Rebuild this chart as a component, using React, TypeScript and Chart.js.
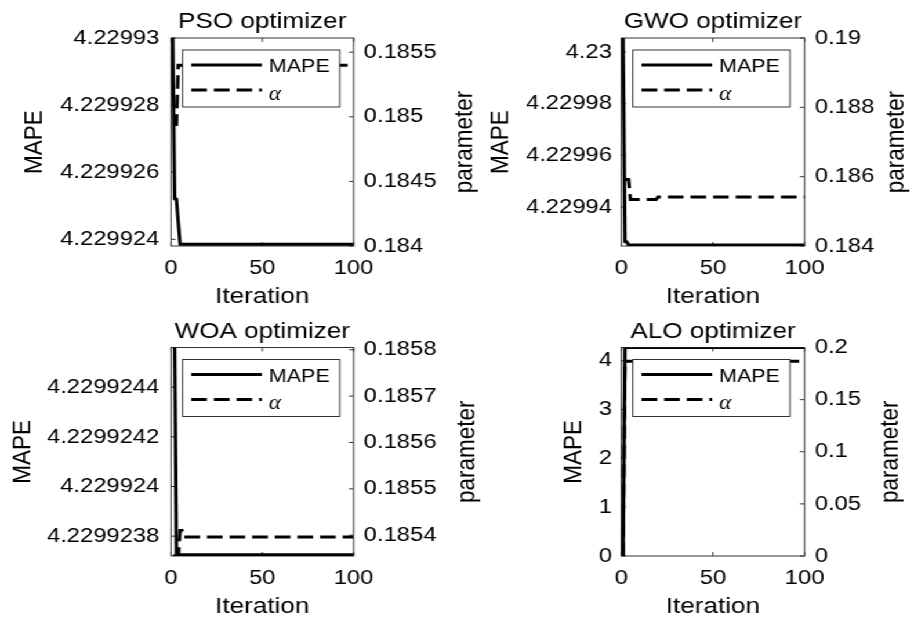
import React, { useEffect, useRef } from "react";
import { Chart, registerables } from "chart.js";

Chart.register(...registerables);

// ---------- data ----------
const iterationTicks = [0, 50, 100];
const seriesLabels = ["MAPE", "α"];
const leftAxisTitle = "MAPE";
const rightAxisTitle = "parameter";
const xAxisTitle = "Iteration";
const panelTitles = ["PSO optimizer", "GWO optimizer", "WOA optimizer", "ALO optimizer"];

// PSO
const psoIter = [1, 2, 3, 4, 5, 6, 100];
const psoMape = [4.22993, 4.2299252, 4.2299252, 4.2299245, 4.22992385, 4.22992385, 4.22992385];
const psoAlpha = [0.18494, 0.18494, 0.18494, 0.1854, 0.1854, 0.1854, 0.1854];
const psoMapeLimits = [4.2299238, 4.22993];
const psoAlphaLimits = [0.184, 0.18561];
const psoMapeTicks = [4.229924, 4.229926, 4.229928, 4.22993];
const psoAlphaTicks = [0.184, 0.1845, 0.185, 0.1855];

// GWO
const gwoIter = [1, 2, 3, 4, 5, 19, 20, 100];
const gwoMape = [4.2300054, 4.2299265, 4.2299265, 4.2299253, 4.2299253, 4.2299253, 4.2299253, 4.2299253];
const gwoAlpha = [0.18592, 0.18592, 0.18592, 0.18592, 0.18534, 0.18534, 0.18541, 0.18541];
const gwoMapeLimits = [4.2299249, 4.2300054];
const gwoAlphaLimits = [0.184, 0.19];
const gwoMapeTicks = [4.22994, 4.22996, 4.22998, 4.23];
const gwoAlphaTicks = [0.184, 0.186, 0.188, 0.19];

// WOA
const woaIter = [1, 2, 3, 4, 5, 6, 7, 100];
const woaMape = [4.22992456, 4.22992456, 4.229923725, 4.229923725, 4.229923725, 4.229923725, 4.229923725, 4.229923725];
const woaAlpha = [0.185355, 0.185355, 0.185355, 0.185355, 0.18541, 0.18541, 0.185396, 0.185396];
const woaMapeLimits = [4.22992372, 4.22992456];
const woaAlphaLimits = [0.185355, 0.185805];
const woaMapeTicks = [4.2299238, 4.229924, 4.2299242, 4.2299244];
const woaAlphaTicks = [0.1854, 0.1855, 0.1856, 0.1857, 0.1858];

// ALO
const aloIter = [1, 2, 100];
const aloMape = [0, 4.27, 4.27];
const aloAlpha = [0, 0.1868, 0.1868];
const aloMapeLimits = [0, 4.27];
const aloAlphaLimits = [0, 0.2];
const aloMapeTicks = [0, 1, 2, 3, 4];
const aloAlphaTicks = [0, 0.05, 0.1, 0.15, 0.2];

// ---------- style / layout ----------
const FONT = '"Liberation Sans", Arial, Helvetica, sans-serif';
const SERIF = '"Liberation Serif", "DejaVu Serif", serif';
const TEXT = "#000000";
const FRAME = "#333333";
const LINE_W = 3;
const DASH = [13.5, 6];
const INNER_W = 788;
const STRETCH = 914 / INNER_W;

const panels = [
  {
    title: panelTitles[0], iter: psoIter, mape: psoMape, alpha: psoAlpha,
    mapeLimits: psoMapeLimits, alphaLimits: psoAlphaLimits, mapeTicks: psoMapeTicks, alphaTicks: psoAlphaTicks,
    left: 0, top: 0, width: 420, height: 310, leftW: 147.4, rightW: 115.2,
    titleBottom: 3, leftTitlePad: 16.7, leftTickPad: 10, rightTickPad: 8.8, rightTitleOffset: 95.6,
  },
  {
    title: panelTitles[1], iter: gwoIter, mape: gwoMape, alpha: gwoAlpha,
    mapeLimits: gwoMapeLimits, alphaLimits: gwoAlphaLimits, mapeTicks: gwoMapeTicks, alphaTicks: gwoAlphaTicks,
    left: 394, top: 0, width: 394, height: 310, leftW: 141.6, rightW: 94.3,
    titleBottom: 3, leftTitlePad: 23.8, leftTickPad: 8, rightTickPad: 8.8, rightTitleOffset: 78.8,
  },
  {
    title: panelTitles[2], iter: woaIter, mape: woaMape, alpha: woaAlpha,
    mapeLimits: woaMapeLimits, alphaLimits: woaAlphaLimits, mapeTicks: woaMapeTicks, alphaTicks: woaAlphaTicks,
    left: 0, top: 310, width: 420, height: 310, leftW: 147.4, rightW: 115.2,
    titleBottom: 2.5, leftTitlePad: 5.9, leftTickPad: 10, rightTickPad: 8.8, rightTitleOffset: 97.6,
  },
  {
    title: panelTitles[3], iter: aloIter, mape: aloMape, alpha: aloAlpha,
    mapeLimits: aloMapeLimits, alphaLimits: aloAlphaLimits, mapeTicks: aloMapeTicks, alphaTicks: aloAlphaTicks,
    left: 394, top: 310, width: 394, height: 310, leftW: 141.6, rightW: 94.3,
    titleBottom: 2.5, leftTitlePad: 87.1, leftTickPad: 8, rightTickPad: 8.8, rightTitleOffset: 73.8,
  },
];

const fmt = (v: number) => String(parseFloat(Number(v).toPrecision(10)));

const matlabPlugin = {
  id: "matlabFrame",
  beforeDatasetsDraw(chart: any) {
    const { ctx, chartArea: a, scales } = chart;
    const TL = 4;
    ctx.save();
    ctx.strokeStyle = FRAME;
    ctx.lineWidth = 1;
    ctx.setLineDash([]);
    ctx.strokeRect(a.left, a.top, a.right - a.left, a.bottom - a.top);
    ctx.beginPath();
    scales.x.ticks.forEach((t: any) => {
      const px = scales.x.getPixelForValue(t.value);
      ctx.moveTo(px, a.bottom);
      ctx.lineTo(px, a.bottom - TL);
      ctx.moveTo(px, a.top);
      ctx.lineTo(px, a.top + TL);
    });
    scales.yL.ticks.forEach((t: any) => {
      const py = scales.yL.getPixelForValue(t.value);
      ctx.moveTo(a.left, py);
      ctx.lineTo(a.left + TL, py);
    });
    scales.yR.ticks.forEach((t: any) => {
      const py = scales.yR.getPixelForValue(t.value);
      ctx.moveTo(a.right, py);
      ctx.lineTo(a.right - TL, py);
    });
    ctx.stroke();
    ctx.restore();
  },
  afterDatasetsDraw(chart: any) {
    const { ctx, chartArea: a } = chart;
    const ds = chart.data.datasets;
    const lx = a.left + 10;
    const ly = a.top + 12;
    const lw = 135.5;
    const lh = 57;
    ctx.save();
    ctx.fillStyle = "#ffffff";
    ctx.fillRect(lx, ly, lw, lh);
    ctx.strokeStyle = FRAME;
    ctx.lineWidth = 1;
    ctx.setLineDash([]);
    ctx.strokeRect(lx, ly, lw, lh);
    ctx.strokeStyle = "#000";
    ctx.lineWidth = LINE_W;
    ctx.lineCap = "butt";
    ctx.beginPath();
    ctx.moveTo(lx + 7.5, ly + 15);
    ctx.lineTo(lx + 68.4, ly + 15);
    ctx.stroke();
    ctx.setLineDash(DASH);
    ctx.beginPath();
    ctx.moveTo(lx + 7.5, ly + 40);
    ctx.lineTo(lx + 68.4, ly + 40);
    ctx.stroke();
    ctx.setLineDash([]);
    ctx.fillStyle = TEXT;
    ctx.textAlign = "left";
    ctx.font = `18.5px ${FONT}`;
    ctx.textBaseline = "middle";
    ctx.fillText(ds[0].label, lx + 74.4, ly + 17);
    ctx.font = `italic 20px ${SERIF}`;
    ctx.textBaseline = "alphabetic";
    ctx.fillText(ds[1].label, lx + 74.4, ly + 49.5);
    ctx.restore();
  },
  afterDraw(chart: any, _args: any, opts: any) {
    const { ctx, chartArea: a } = chart;
    ctx.save();
    ctx.translate(a.right + opts.rightTitleOffset, (a.top + a.bottom) / 2);
    ctx.rotate(-Math.PI / 2);
    ctx.font = `22.5px ${FONT}`;
    ctx.fillStyle = TEXT;
    ctx.textAlign = "center";
    ctx.textBaseline = "middle";
    ctx.fillText(opts.rightTitle, 0, 0);
    ctx.restore();
  },
};

function makeConfig(p: any): any {
  const tickFont = { family: FONT, size: 20.5 };
  const labelFont = { family: FONT, size: 22.5, weight: "normal" };
  const toPts = (ys: number[]) => p.iter.map((x: number, i: number) => ({ x, y: ys[i] }));
  const fixedTicks = (vals: number[]) => (s: any) => {
    s.ticks = vals.map((v) => ({ value: v }));
  };
  return {
    type: "line",
    data: {
      datasets: [
        {
          label: seriesLabels[0], data: toPts(p.mape), yAxisID: "yL",
          borderColor: "#000", backgroundColor: "#000", borderWidth: LINE_W,
          pointRadius: 0, tension: 0, fill: false, borderJoinStyle: "round",
        },
        {
          label: seriesLabels[1], data: toPts(p.alpha), yAxisID: "yR",
          borderColor: "#000", backgroundColor: "#000", borderWidth: LINE_W, borderDash: DASH,
          pointRadius: 0, tension: 0, fill: false, borderCapStyle: "butt",
        },
      ],
    },
    options: {
      responsive: false,
      animation: false,
      devicePixelRatio: 1,
      events: [],
      layout: { padding: 0 },
      plugins: {
        legend: { display: false },
        tooltip: { enabled: false },
        title: {
          display: true, text: p.title, fullSize: false, color: TEXT,
          font: labelFont, padding: { top: 8, bottom: p.titleBottom },
        },
        matlabFrame: { rightTitle: rightAxisTitle, rightTitleOffset: p.rightTitleOffset },
      },
      scales: {
        x: {
          type: "linear", position: "bottom", min: 0, max: 100, bounds: "data",
          afterBuildTicks: fixedTicks(iterationTicks),
          afterFit: (s: any) => { s.height = 64; },
          grid: { display: false, drawTicks: false },
          border: { display: false },
          ticks: { font: tickFont, color: TEXT, padding: 10, maxRotation: 0, autoSkip: false, callback: (v: number) => fmt(v) },
          title: { display: true, text: xAxisTitle, font: labelFont, color: TEXT, padding: { top: 0, bottom: 0 } },
        },
        yL: {
          type: "linear", position: "left", min: p.mapeLimits[0], max: p.mapeLimits[1], bounds: "data",
          afterBuildTicks: fixedTicks(p.mapeTicks),
          afterFit: (s: any) => { s.width = p.leftW; },
          grid: { display: false, drawTicks: false },
          border: { display: false },
          ticks: { font: tickFont, color: TEXT, padding: p.leftTickPad, autoSkip: false, callback: (v: number) => fmt(v) },
          title: { display: true, text: leftAxisTitle, font: labelFont, color: TEXT, padding: { top: p.leftTitlePad, bottom: 0 } },
        },
        yR: {
          type: "linear", position: "right", min: p.alphaLimits[0], max: p.alphaLimits[1], bounds: "data",
          afterBuildTicks: fixedTicks(p.alphaTicks),
          afterFit: (s: any) => { s.width = p.rightW; },
          grid: { display: false, drawTicks: false },
          border: { display: false },
          ticks: { font: tickFont, color: TEXT, padding: p.rightTickPad, autoSkip: false, callback: (v: number) => fmt(v) },
          title: { display: false },
        },
      },
    },
    plugins: [matlabPlugin],
  };
}

function Panel({ p }: { p: any }) {
  const ref = useRef<HTMLCanvasElement>(null);
  useEffect(() => {
    const chart = new Chart(ref.current as HTMLCanvasElement, makeConfig(p));
    return () => chart.destroy();
  }, [p]);
  return (
    <canvas
      ref={ref}
      width={p.width}
      height={p.height}
      style={{ position: "absolute", left: p.left, top: p.top, width: p.width, height: p.height }}
    />
  );
}

export default function App() {
  return (
    <div
      style={{
        position: "absolute",
        left: 0,
        top: 0,
        width: INNER_W,
        height: 621,
        background: "#ffffff",
        transform: `scaleX(${STRETCH})`,
        transformOrigin: "0 0",
        overflow: "hidden",
      }}
    >
      {panels.map((p) => (
        <Panel key={p.title} p={p} />
      ))}
    </div>
  );
}
